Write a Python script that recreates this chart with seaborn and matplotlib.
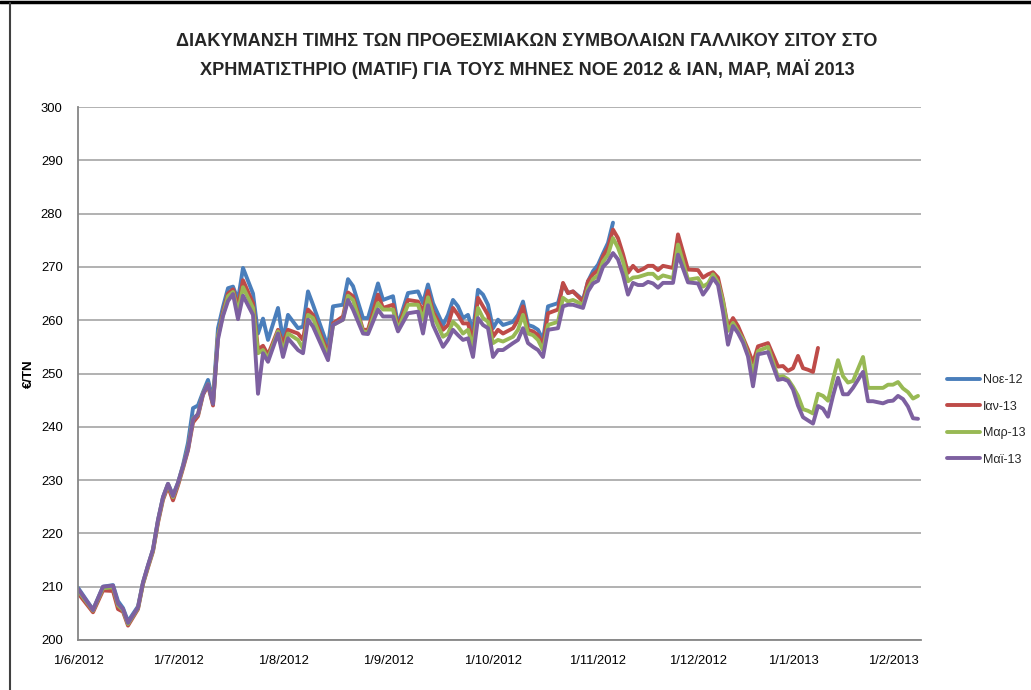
import numpy as np
import pandas as pd
import matplotlib
matplotlib.use("Agg")
import matplotlib.pyplot as plt
from matplotlib import font_manager
from matplotlib.lines import Line2D
import seaborn as sns

# ---------------- data ----------------
title_lines = ["ΔΙΑΚΥΜΑΝΣΗ ΤΙΜΗΣ ΤΩΝ ΠΡΟΘΕΣΜΙΑΚΩΝ ΣΥΜΒΟΛΑΙΩΝ ΓΑΛΛΙΚΟΥ ΣΙΤΟΥ ΣΤΟ",
               "ΧΡΗΜΑΤΙΣΤΗΡΙΟ (MATIF) ΓΙΑ ΤΟΥΣ ΜΗΝΕΣ ΝΟΕ 2012 & ΙΑΝ, ΜΑΡ, ΜΑΪ 2013"]
y_label = "€/TN"
series_names = ["Νοε-12", "Ιαν-13", "Μαρ-13", "Μαϊ-13"]
month_labels = ["1/6/2012", "1/7/2012", "1/8/2012", "1/9/2012", "1/10/2012",
                "1/11/2012", "1/12/2012", "1/1/2013", "1/2/2013"]
month_start_day = [0, 20, 41, 62, 83, 104, 124, 143, 163]   # trading-day index of month starts

# trading-day index
day = [0, 3, 5, 7, 8, 9, 10, 12, 13, 14,
       15, 16, 17, 18, 19, 20, 21, 22, 23, 24,
       25, 26, 27, 28, 29, 30, 31, 32, 33, 35,
       36, 37, 38, 40, 41, 42, 44, 45, 46, 47,
       50, 51, 53, 54, 55, 57, 58, 60, 61, 63,
       64, 66, 68, 69, 70, 71, 73, 74, 75, 76,
       77, 78, 79, 80, 81, 82, 83, 84, 85, 87,
       88, 89, 90, 91, 92, 93, 94, 96, 97, 98,
       99, 101, 102, 103, 104, 105, 106, 107, 108, 109,
       110, 111, 112, 113, 114, 115, 116, 117, 119, 120,
       122, 124, 125, 126, 127, 128, 129, 130, 131, 132,
       133, 134, 135, 136, 138, 140, 141, 142, 143, 144,
       145, 146, 147, 148, 149, 150, 151, 152, 153, 154,
       155, 157, 158, 159, 161, 162, 163, 164, 165, 166,
       167, 168]

nan = np.nan
noe12 = [209.8, 205.7, 210.0, 210.3, 207.3, 206.0, 203.5, 206.3, 210.8, 214.0,
         217.0, 222.5, 226.8, 229.3, 227.2, 229.5, 232.8, 237.0, 243.5, 244.0,
         246.5, 248.8, 245.0, 258.5, 262.5, 266.0, 266.3, 263.8, 269.8, 265.0,
         257.5, 260.3, 256.3, 262.3, 256.3, 261.0, 258.5, 258.8, 265.4, 262.9,
         255.0, 262.6, 262.9, 267.7, 266.4, 260.4, 260.4, 266.9, 263.8, 264.5,
         259.1, 265.1, 265.4, 263.2, 266.7, 263.2, 259.1, 261.0, 263.8, 262.6,
         260.4, 261.0, 257.9, 265.7, 264.8, 262.9, 258.5, 260.1, 259.1, 259.7,
         261.0, 263.5, 259.1, 258.8, 258.2, 256.3, 262.6, 263.2, 266.7, 265.1,
         265.4, 263.8, 267.3, 269.2, 270.4, 272.5, 274.5, 278.3, nan, nan,
         nan, nan, nan, nan, nan, nan, nan, nan, nan, nan,
         nan, nan, nan, nan, nan, nan, nan, nan, nan, nan,
         nan, nan, nan, nan, nan, nan, nan, nan, nan, nan,
         nan, nan, nan, nan, nan, nan, nan, nan, nan, nan,
         nan, nan, nan, nan, nan, nan, nan, nan, nan, nan,
         nan, nan]

ian13 = [208.8, 205.2, 209.3, 209.2, 205.8, 205.3, 202.7, 205.8, 210.5, 213.6,
         216.6, 222.0, 226.3, 228.8, 226.2, 229.0, 232.2, 235.6, 240.8, 242.0,
         246.0, 247.8, 244.0, 257.0, 261.5, 265.0, 265.8, 262.5, 267.5, 263.2,
         254.5, 255.2, 253.5, 258.2, 255.6, 258.2, 257.5, 256.3, 262.0, 261.0,
         253.8, 259.4, 260.7, 265.2, 264.5, 258.2, 258.2, 264.8, 262.3, 262.9,
         258.7, 263.8, 263.5, 261.6, 265.5, 261.6, 258.2, 259.1, 262.3, 261.0,
         259.4, 259.4, 256.0, 264.2, 262.6, 261.0, 256.9, 258.2, 257.5, 258.5,
         260.1, 262.6, 258.2, 257.9, 257.2, 255.3, 261.3, 262.0, 267.0, 265.1,
         265.4, 263.5, 267.3, 268.6, 269.4, 272.0, 273.6, 277.0, 275.4, 272.4,
         268.9, 270.2, 269.2, 269.6, 270.2, 270.2, 269.4, 270.2, 269.8, 276.1,
         269.5, 269.4, 268.0, 268.6, 269.0, 268.0, 263.8, 258.6, 260.4, 258.9,
         256.7, 254.5, 252.0, 255.1, 255.7, 251.3, 251.4, 250.5, 251.0, 253.3,
         251.0, 250.7, 250.3, 254.8, nan, nan, nan, nan, nan, nan,
         nan, nan, nan, nan, nan, nan, nan, nan, nan, nan,
         nan, nan]

mar13 = [209.3, 205.5, 209.7, 209.9, 206.5, 205.6, 203.0, 206.0, 210.6, 213.8,
         216.8, 222.3, 226.6, 229.2, 226.8, 229.3, 232.5, 236.0, 241.5, 242.3,
         246.3, 248.0, 244.4, 257.0, 261.0, 264.5, 265.3, 261.5, 266.2, 262.3,
         253.8, 254.4, 252.8, 257.9, 254.1, 257.5, 256.3, 254.7, 261.0, 260.4,
         253.1, 259.1, 260.1, 264.6, 263.8, 257.9, 257.7, 263.2, 262.0, 262.0,
         258.2, 262.9, 262.9, 260.1, 264.3, 261.0, 256.9, 257.5, 259.7, 258.8,
         257.5, 258.2, 255.0, 262.3, 260.4, 259.7, 255.7, 256.3, 256.0, 256.9,
         258.2, 261.0, 257.5, 257.2, 256.3, 254.4, 259.1, 259.7, 264.2, 263.5,
         263.8, 262.9, 266.0, 267.7, 268.4, 271.0, 272.3, 275.4, 273.6, 271.0,
         267.3, 268.0, 268.1, 268.4, 268.7, 268.7, 267.8, 268.4, 267.9, 274.2,
         267.6, 267.9, 266.3, 266.9, 268.6, 267.1, 263.5, 258.0, 259.5, 257.9,
         256.4, 253.6, 250.1, 254.2, 255.0, 249.3, 249.5, 248.9, 247.5, 245.8,
         243.3, 243.0, 242.5, 246.2, 245.8, 244.9, 248.9, 252.5, 249.5, 248.3,
         248.6, 253.1, 247.3, 247.3, 247.3, 247.9, 247.9, 248.4, 247.2, 246.5,
         245.3, 245.8]

mai13 = [209.6, 205.6, 210.0, 210.2, 206.8, 205.8, 203.2, 206.1, 210.8, 214.0,
         217.0, 222.5, 226.8, 229.3, 227.0, 229.5, 232.6, 235.8, 241.4, 242.4,
         246.2, 248.0, 244.3, 256.4, 260.8, 263.6, 264.9, 260.2, 264.6, 261.0,
         246.2, 253.8, 252.2, 257.5, 253.1, 256.6, 254.4, 253.8, 260.1, 258.8,
         252.5, 259.1, 260.1, 263.8, 262.0, 257.5, 257.4, 262.0, 260.7, 260.7,
         257.9, 261.3, 261.6, 257.5, 262.8, 259.1, 255.0, 256.3, 258.2, 257.2,
         256.3, 256.6, 253.1, 260.4, 259.1, 258.5, 253.1, 254.4, 254.4, 255.7,
         256.3, 258.5, 255.7, 255.0, 254.4, 253.1, 258.2, 258.5, 262.6, 262.9,
         262.9, 262.3, 265.4, 266.9, 267.4, 270.0, 271.0, 272.6, 271.4, 268.5,
         264.8, 267.0, 266.6, 266.6, 267.2, 266.9, 266.1, 267.0, 267.0, 272.3,
         267.1, 266.9, 264.8, 266.1, 267.9, 266.6, 261.5, 255.4, 258.9, 257.6,
         255.8, 253.2, 247.6, 253.6, 254.0, 248.8, 249.0, 248.6, 247.0, 244.0,
         241.8, 241.2, 240.6, 243.9, 243.4, 241.9, 245.8, 249.2, 246.1, 246.1,
         247.3, 250.3, 244.8, 244.8, 244.4, 244.8, 244.9, 245.8, 245.2, 243.8,
         241.6, 241.5]

colors = ["#4A7EBB", "#BE4B48", "#98B954", "#7D60A0"]

# ---------------- build long table ----------------
frames = []
for name, vals in zip(series_names, [noe12, ian13, mar13, mai13]):
    assert len(vals) == len(day), (name, len(vals), len(day))
    frames.append(pd.DataFrame({"day": day, "price": vals, "contract": name}))
df = pd.concat(frames, ignore_index=True).dropna()

# ---------------- fonts ----------------
available = {f.name for f in font_manager.fontManager.ttflist}
base_font = "Liberation Sans" if "Liberation Sans" in available else "DejaVu Sans"
title_font = "Liberation Sans Narrow" if "Liberation Sans Narrow" in available else base_font

sns.set_theme(style="white")
plt.rcParams["font.family"] = [base_font, "DejaVu Sans"]

W, H = 1031, 690
fig = plt.figure(figsize=(W / 100, H / 100), dpi=100)
fig.patch.set_facecolor("white")

ax_left, ax_right, ax_top, ax_bottom = 78, 921, 107, 640
ax = fig.add_axes([ax_left / W, 1 - ax_bottom / H, (ax_right - ax_left) / W, (ax_bottom - ax_top) / H])

sns.lineplot(data=df, x="day", y="price", hue="contract", hue_order=series_names,
             palette=colors, linewidth=2.8, ax=ax, legend=False, sort=True,
             estimator=None, solid_joinstyle="round", solid_capstyle="round")

ax.set_xlim(0, 168.6)
ax.set_ylim(200, 300)
ax.set_yticks(np.arange(200, 301, 10))
ax.set_xticks(month_start_day)
ax.set_xticklabels(month_labels)
ax.set_xlabel("")
ax.set_ylabel(y_label, fontsize=9.5, fontweight="bold", labelpad=4, color="#000000")

ax.grid(axis="y", color="#ABABAB", linewidth=1.3)
ax.grid(axis="x", visible=False)
ax.set_axisbelow(True)
for s in ["top", "right"]:
    ax.spines[s].set_visible(False)
for s in ["left", "bottom"]:
    ax.spines[s].set_color("#868686")
    ax.spines[s].set_linewidth(1.3)
ax.tick_params(axis="both", which="both", direction="out", length=5, width=1.2,
               color="#868686", labelsize=9.4, labelcolor="#000000")
ax.tick_params(axis="y", pad=6)
ax.tick_params(axis="x", pad=6)

# ---------------- legend ----------------
handles = [Line2D([0], [0], color=c, lw=2.8) for c in colors]
fig.legend(handles, series_names, loc="center left",
           bbox_to_anchor=(942 / W, 1 - 420 / H), frameon=False,
           fontsize=9, handlelength=2.6, handletextpad=0.3, labelspacing=1.15,
           borderaxespad=0)

# ---------------- title ----------------
renderer = fig.canvas.get_renderer()
t1 = fig.text(527 / W, 1 - 42 / H, title_lines[0], ha="center", va="center",
              fontsize=12, fontweight="bold", family=[title_font, "DejaVu Sans"])
bb = t1.get_window_extent(renderer=renderer)
fs = 12 * 697.0 / bb.width
t1.set_fontsize(fs)
fig.text(527 / W, 1 - 69 / H, title_lines[1], ha="center", va="center",
         fontsize=fs, fontweight="bold", family=[title_font, "DejaVu Sans"])

# ---------------- frame ----------------
fig.add_artist(Line2D([0, 1], [1 - 1.5 / H, 1 - 1.5 / H], transform=fig.transFigure,
                      color="black", lw=2.5))
fig.add_artist(Line2D([10 / W, 10 / W], [0, 1 - 3 / H], transform=fig.transFigure,
                      color="#404040", lw=1.5))

fig.savefig("out.png", dpi=100, facecolor="white")
